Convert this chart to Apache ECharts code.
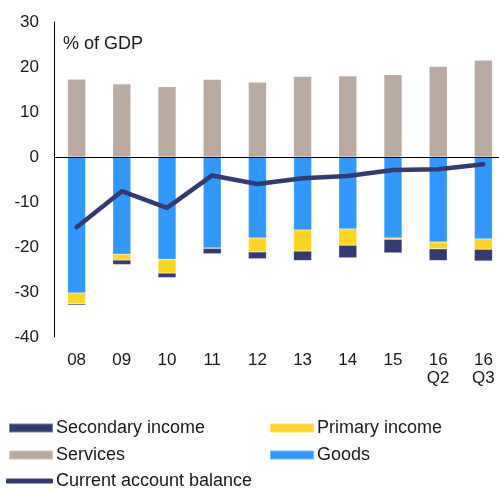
<!DOCTYPE html>
<html>
<head>
<meta charset="utf-8">
<style>
  html, body { margin: 0; padding: 0; background: #fff; }
  #chart { width: 499px; height: 489px; }
</style>
<script src="https://cdn.jsdelivr.net/npm/echarts@6/dist/echarts.min.js"></script>
</head>
<body>
<div id="chart"></div>
<script>
// Current account components, % of GDP
const categories = ['08', '09', '10', '11', '12', '13', '14', '15', '16\nQ2', '16\nQ3'];
const goods = [-30.2, -21.6, -22.8, -20.2, -18.0, -16.2, -16.0, -18.0, -18.9, -18.2];
const primaryIncome = [-2.4, -1.3, -3.0, -0.1, -3.1, -4.7, -3.6, -0.3, -1.5, -2.3];
const secondaryIncome = [-0.3, -1.0, -1.0, -1.2, -1.5, -2.1, -2.8, -3.0, -2.6, -2.6];
const services = [17.3, 16.2, 15.6, 17.2, 16.6, 17.9, 18.0, 18.3, 20.1, 21.5];
const currentAccount = [-15.6, -7.6, -11.3, -4.1, -6.0, -4.7, -4.2, -2.9, -2.7, -1.6];
const yTicks = { min: -40, max: 30, interval: 10 };

const COLORS = {
  secondary: '#343b73',
  primary: '#ffd520',
  services: '#b8a9a1',
  goods: '#3198fd',
  balance: '#343b73'
};
const FONT = 'Liberation Sans, Arial, sans-serif';
const TEXT = '#1a1a1a';

const chart = echarts.init(document.getElementById('chart'));

function legendAt(name, left, top, icon, h) {
  return {
    data: [{ name: name, icon: icon }],
    left: left, top: top,
    itemWidth: icon === 'roundRect' ? 47 : 44,
    itemHeight: h,
    itemGap: 0,
    padding: 0,
    textStyle: { fontFamily: FONT, fontSize: 18, color: TEXT, padding: [0, 0, 0, -2] },
    selectedMode: false
  };
}

const barCommon = { type: 'bar', stack: 'total', barWidth: 18, itemStyle: { borderColor: 'rgba(255,255,255,0.35)', borderWidth: 0.5 } };

chart.setOption({
  animation: false,
  backgroundColor: '#fff',
  textStyle: { fontFamily: FONT },
  // plot band runs slightly past the right edge of the canvas
  grid: { left: 54, top: 22, height: 315, width: 452, containLabel: false, outerBoundsMode: 'none' },
  title: {
    text: '% of GDP', left: 63, top: 35, padding: 0,
    textStyle: { fontFamily: FONT, fontSize: 18, fontWeight: 'normal', color: TEXT }
  },
  legend: [
    legendAt('Secondary income', 8, 419, 'rect', 9),
    legendAt('Primary income', 269, 419, 'rect', 9),
    legendAt('Services', 8, 446, 'rect', 9),
    legendAt('Goods', 269, 446, 'rect', 9),
    legendAt('Current account balance', 6, 472, 'roundRect', 5)
  ],
  xAxis: {
    type: 'category',
    data: categories,
    axisLine: { show: false },
    axisTick: { show: false },
    axisLabel: { fontFamily: FONT, fontSize: 17, color: TEXT, margin: 14, lineHeight: 18, verticalAlign: 'top' }
  },
  yAxis: {
    type: 'value',
    min: yTicks.min, max: yTicks.max, interval: yTicks.interval,
    axisLine: { show: true, lineStyle: { color: '#000', width: 1 } },
    axisTick: { show: false },
    splitLine: { show: false },
    axisLabel: { fontFamily: FONT, fontSize: 17, color: TEXT, margin: 15 }
  },
  series: [
    Object.assign({}, barCommon, {
      name: 'Goods', data: goods, itemStyle: Object.assign({}, barCommon.itemStyle, { color: COLORS.goods }),
      markLine: {
        silent: true, symbol: 'none', label: { show: false },
        lineStyle: { color: '#000', width: 1, type: 'solid' },
        data: [{ yAxis: 0 }]
      }
    }),
    Object.assign({}, barCommon, { name: 'Primary income', data: primaryIncome, itemStyle: Object.assign({}, barCommon.itemStyle, { color: COLORS.primary }) }),
    Object.assign({}, barCommon, { name: 'Secondary income', data: secondaryIncome, itemStyle: Object.assign({}, barCommon.itemStyle, { color: COLORS.secondary }) }),
    Object.assign({}, barCommon, { name: 'Services', data: services, itemStyle: Object.assign({}, barCommon.itemStyle, { color: COLORS.services }) }),
    {
      name: 'Current account balance', type: 'line', data: currentAccount,
      symbol: 'none', z: 5,
      lineStyle: { color: COLORS.balance, width: 4.5, cap: 'round', join: 'round' },
      itemStyle: { color: COLORS.balance }
    }
  ]
});
</script>
</body>
</html>
